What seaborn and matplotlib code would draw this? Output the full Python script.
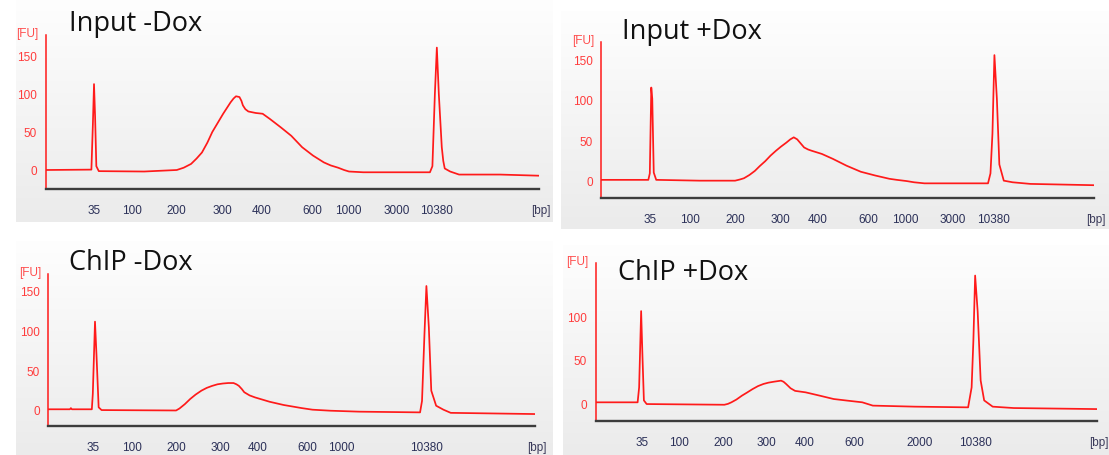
# Bioanalyzer electropherograms: Input / ChIP, with and without Dox
import numpy as np
import matplotlib
matplotlib.use("Agg")
import matplotlib.pyplot as plt
from matplotlib import font_manager
from matplotlib.colors import LinearSegmentedColormap
import seaborn as sns

# --- ladder (bp) shown on the x axis; x data is relative migration time (0-100) ---
LADDER_BP = [35, 50, 100, 150, 200, 300, 400, 500, 600, 700, 1000, 2000, 3000, 7000, 10380]

# --- Input -Dox ---
TICKS_IN_MINUS = [9.8, 12.2, 17.5, 22.3, 26.6, 35.8, 43.7, 49.8, 54.1, 57.2, 61.4, 67.9, 71.2, 76.0, 79.3]
LABELS_IN_MINUS = [35, 100, 200, 300, 400, 600, 1000, 3000, 10380]
T_IN_MINUS = [0, 9.3, 9.6, 9.83, 10.05, 10.3, 10.8, 20.0, 26.6, 28.0, 29.5, 30.6, 31.7, 32.8,
              33.8, 34.9, 36.0, 37.5, 38.1, 38.6, 39.3, 39.7, 40.0, 40.5, 41.1, 42.6, 44.0,
              45.5, 47.7, 49.8, 52.0, 54.2, 56.4, 57.8, 59.3, 60.5, 61.5, 64.4,
              77.9, 78.4, 78.9, 79.3, 79.7, 80.3, 80.6, 80.9, 82.0, 83.8, 92.1, 100]
FU_IN_MINUS = [0, 0.5, 60, 113, 70, 5, -1.5, -2, 0, 3, 8, 15, 23, 36,
               50, 62, 74, 89, 94, 97, 96, 91, 85, 80, 77, 75, 74,
               67, 56, 45, 30, 19, 10, 6, 3, 0, -2, -3,
               -3, 5, 100, 161, 100, 30, 12, 2, -2, -6, -6, -7.5]

# --- Input +Dox ---
TICKS_IN_PLUS = [10.0, 12.4, 18.0, 22.4, 27.2, 36.3, 44.0, 49.7, 54.3, 57.8, 61.7, 68.2, 71.3, 76.6, 79.7]
LABELS_IN_PLUS = [35, 100, 200, 300, 400, 600, 1000, 3000, 10380]
T_IN_PLUS = [0, 9.6, 9.9, 10.2, 10.4, 10.7, 11.2, 20.0, 27.2, 28.2, 29.0, 30.1, 31.2, 32.2,
             33.3, 34.4, 35.5, 36.5, 37.6, 38.4, 39.1, 39.8, 40.5, 41.2, 42.0, 42.7, 44.8,
             47.0, 49.8, 52.7, 55.6, 58.5, 60.0, 62.0, 63.5, 65.6, 78.5, 79.0, 79.4,
             79.8, 80.3, 80.8, 81.7, 83.5, 87.1, 100]
FU_IN_PLUS = [1, 1, 9, 115, 101, 10, 1, 0, 0, 1.5, 3, 7, 12, 18,
              24, 31, 37, 42, 47, 51, 53.5, 51, 46, 41, 38.5, 37, 33,
              27, 18.5, 11, 6.4, 2.3, 1, -0.5, -2, -3.3, -3.3, 9, 58,
              155, 101, 20, 0, -2, -4, -5.6]

# --- ChIP -Dox ---
TICKS_CHIP_MINUS = [9.2, 11.9, 17.2, 21.9, 26.4, 35.3, 43.0, 48.8, 53.3, 56.3, 60.3, 66.5, 69.6, 74.7, 77.7]
LABELS_CHIP_MINUS = [35, 100, 200, 300, 400, 600, 1000, 10380]
T_CHIP_MINUS = [0, 4.5, 4.7, 4.9, 9.0, 9.2, 9.65, 9.95, 10.4, 11.0, 26.3, 27.0, 28.1, 29.2,
                30.3, 31.5, 32.6, 33.7, 34.8, 35.9, 37.0, 38.1, 38.7, 39.2, 39.8, 40.3, 41.4,
                42.5, 45.5, 48.4, 52.1, 54.3, 58.0, 63.9, 76.4, 76.8, 77.3,
                77.7, 78.2, 78.7, 79.7, 81.2, 82.7, 100]
FU_CHIP_MINUS = [0.5, 0.5, 2, 0.5, 0.5, 20, 111, 70, 3, -0.5, -1, 1.5, 7, 13.5,
                 19, 24, 27.5, 30, 32, 33, 33.6, 33.6, 32, 30, 26, 22, 18,
                 15.5, 10, 5.9, 2, 0, -1.3, -2.5, -3.4, 11, 95,
                 156, 104, 24, 5, 0, -4, -5.5]

# --- ChIP +Dox ---
TICKS_CHIP_PLUS = [9.2, 11.3, 16.6, 21.1, 25.5, 34.0, 41.7, 47.3, 51.6, 54.8, 58.7, 64.6, 67.8, 72.6, 75.7]
LABELS_CHIP_PLUS = [35, 100, 200, 300, 400, 600, 2000, 10380]
T_CHIP_PLUS = [0, 8.4, 8.7, 9.1, 9.37, 9.65, 10.2, 25.7, 26.4, 27.1, 28.1, 29.2, 30.2, 31.3,
               32.4, 33.5, 34.5, 35.6, 37.0, 37.5, 38.0, 38.9, 39.8, 41.9, 44.7, 47.5, 50.3,
               53.2, 55.3, 63.7, 74.3, 75.0, 75.35, 75.7, 76.2, 76.8,
               77.5, 79.2, 83.4, 100]
FU_CHIP_PLUS = [0.8, 0.8, 18, 106, 53, 3, -1.2, -2, -1, 0.8, 4, 8.5, 12, 16,
                19.5, 22, 23.5, 24.6, 25.8, 24.5, 22, 17, 14, 12.3, 8.5, 4.6, 2.7,
                0.8, -3, -4.2, -5, 18, 72, 147, 106, 26,
                3, -4.2, -5.8, -7]

FU_TICKS = [0, 50, 100, 150]

W, H = 1109, 456

# layout in pixels: title, gray box (l, t, r, b), axes (l, t, r, b), y limits, FU tick labels
PANELS = [
    dict(title="Input -Dox", tx=69, tbase=31, box=(16, 0, 553, 223), ax=(45.5, 36, 539, 190),
         ylim=(-25, 177.6), t=T_IN_MINUS, fu=FU_IN_MINUS, ticks=TICKS_IN_MINUS,
         labels=LABELS_IN_MINUS, ylab=["0", "50", "100", "150"]),
    dict(title="Input +Dox", tx=622, tbase=39, box=(561, 12, 1109, 230), ax=(601, 43, 1094, 199),
         ylim=(-21.4, 171.2), t=T_IN_PLUS, fu=FU_IN_PLUS, ticks=TICKS_IN_PLUS,
         labels=LABELS_IN_PLUS, ylab=["0", "50", "100", "150"]),
    dict(title="ChIP -Dox", tx=69, tbase=270, box=(16, 242, 553, 456), ax=(48, 275, 535, 426.7),
         ylim=(-20.2, 171.1), t=T_CHIP_MINUS, fu=FU_CHIP_MINUS, ticks=TICKS_CHIP_MINUS,
         labels=LABELS_CHIP_MINUS, ylab=["0", "50", "100", "150"]),
    dict(title="ChIP +Dox", tx=618, tbase=280, box=(563, 246, 1109, 456), ax=(595.5, 264, 1097, 421.7),
         ylim=(-20.4, 161.5), t=T_CHIP_PLUS, fu=FU_CHIP_PLUS, ticks=TICKS_CHIP_PLUS,
         labels=LABELS_CHIP_PLUS, ylab=["0", "50", "100", ""]),
]

RED = "#ff1a1a"
AXIS_DARK = "#3c3c3c"
XLAB = "#2b3058"

sns.set_style("white")
plt.rcParams["font.family"] = ["DejaVu Sans"]

installed = {f.name for f in font_manager.fontManager.ttflist}
if "Liberation Sans Narrow" in installed:
    tick_font, tick_size = "Liberation Sans Narrow", 9.5
else:
    tick_font, tick_size = "Liberation Sans", 8.5


def px_rect(l, t, r, b):
    return [l / W, 1 - b / H, (r - l) / W, (b - t) / H]


fig = plt.figure(figsize=(W / 100, H / 100), dpi=100)
fig.patch.set_facecolor("white")

grad_cmap = LinearSegmentedColormap.from_list("bg", ["#fefefe", "#ebebeb"])
gradient = np.linspace(0, 1, 256).reshape(-1, 1)

for p in PANELS:
    bg = fig.add_axes(px_rect(*p["box"]), zorder=0)
    bg.imshow(gradient, aspect="auto", cmap=grad_cmap, interpolation="bicubic")
    bg.axis("off")

    ax = fig.add_axes(px_rect(*p["ax"]), zorder=1)
    ax.patch.set_alpha(0)
    sns.lineplot(x=p["t"], y=p["fu"], ax=ax, color=RED, linewidth=1.25)

    ax.set_xlim(0, 100)
    ax.set_ylim(*p["ylim"])
    for side in ("top", "right"):
        ax.spines[side].set_visible(False)
    ax.spines["left"].set_color(RED)
    ax.spines["left"].set_linewidth(1.1)
    ax.spines["bottom"].set_color(AXIS_DARK)
    ax.spines["bottom"].set_linewidth(1.7)

    ax.set_xticks(p["ticks"])
    ax.set_xticklabels([str(bp) if bp in p["labels"] else "" for bp in LADDER_BP])
    ax.set_yticks(FU_TICKS)
    ax.set_yticklabels(p["ylab"])
    ax.tick_params(axis="x", direction="out", length=6, width=1.0, color=AXIS_DARK,
                   labelcolor=XLAB, labelsize=tick_size, pad=5)
    ax.tick_params(axis="y", direction="out", length=4.5, width=1.0, color=RED,
                   labelcolor="#ff3c3c", labelsize=tick_size, pad=1.5)
    for lab in ax.get_xticklabels() + ax.get_yticklabels():
        lab.set_family(tick_font)
    ax.set_xlabel("")
    ax.set_ylabel("")

    ax.annotate("[FU]", xy=(0, 1), xycoords="axes fraction", xytext=(-7, 2),
                textcoords="offset pixels", ha="right", va="center",
                color="#ff4d4d", fontsize=tick_size, family=tick_font)
    ax.annotate("[bp]", xy=(1, 0), xycoords="axes fraction", xytext=(2, -21),
                textcoords="offset pixels", ha="center", va="center",
                color="#3a3a5a", fontsize=tick_size, family=tick_font)

    fig.text(p["tx"] / W, 1 - p["tbase"] / H, p["title"], ha="left", va="baseline",
             fontsize=19.5, family="Open Sans", color="#111111")

fig.savefig("out.png", dpi=100)
